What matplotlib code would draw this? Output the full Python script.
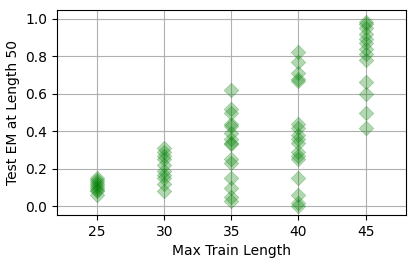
import numpy as np
import matplotlib.pyplot as plt

lengths = [25, 30, 35, 40, 45]
em_25 = [0.06, 0.08, 0.09, 0.10, 0.11, 0.12, 0.13, 0.14, 0.15]
em_30 = [0.31, 0.29, 0.27, 0.25, 0.22, 0.19, 0.17, 0.15, 0.12, 0.08]
em_35 = [0.62, 0.52, 0.50, 0.44, 0.43, 0.39, 0.36, 0.34, 0.33, 0.25, 0.23, 0.15, 0.10, 0.05, 0.03]
em_40 = [0.82, 0.77, 0.71, 0.68, 0.67, 0.44, 0.42, 0.38, 0.36, 0.34, 0.29, 0.27, 0.25, 0.15, 0.06, 0.02, 0.0]
em_45 = [0.98, 0.97, 0.95, 0.92, 0.89, 0.87, 0.84, 0.81, 0.78, 0.66, 0.60, 0.50, 0.42]

fig, ax = plt.subplots(figsize=(4.15, 2.66), dpi=100)
for L, vals in zip(lengths, [em_25, em_30, em_35, em_40, em_45]):
    ax.scatter([L] * len(vals), vals, marker='D', s=55, color='green', alpha=0.3, linewidths=0.5)

ax.set_xlim(22, 48)
ax.set_ylim(-0.045, 1.045)
ax.set_xticks(lengths)
ax.set_yticks(np.arange(0, 1.01, 0.2))
ax.grid(True)
ax.set_axisbelow(True)
ax.set_xlabel('Max Train Length')
ax.set_ylabel('Test EM at Length 50')
fig.subplots_adjust(left=0.137, right=0.978, top=0.962, bottom=0.192)
plt.savefig('out.png')
